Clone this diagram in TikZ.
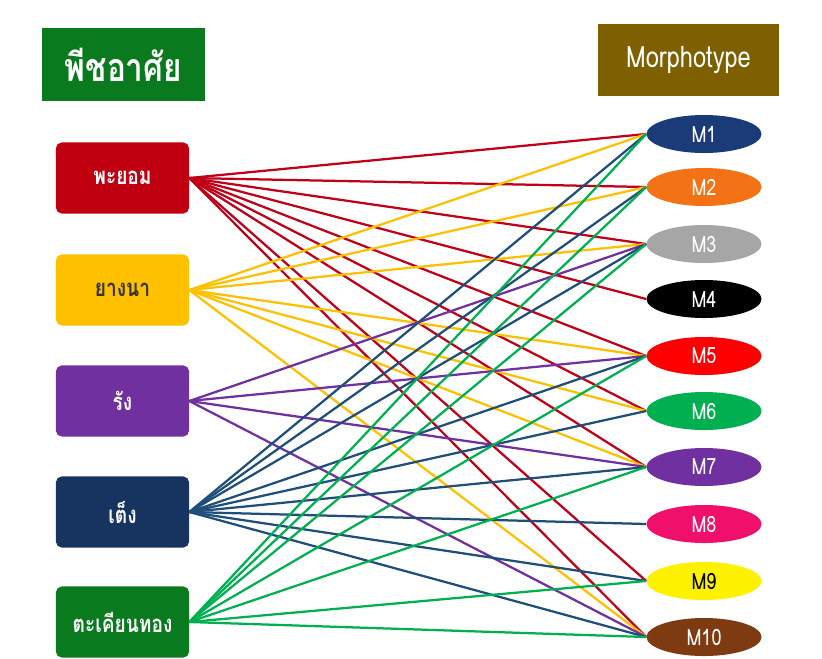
\documentclass[tikz,border=0pt]{standalone}
\usepackage{fontspec}
\setmainfont[Script=Thai, FakeStretch=0.8]{Loma}
\usetikzlibrary{shapes.geometric}

\definecolor{hostHead}{HTML}{0A7A1E}
\definecolor{morphHead}{HTML}{7F6000}
\definecolor{cPayom}{HTML}{C00010}
\definecolor{cYangna}{HTML}{FFC000}
\definecolor{cRang}{HTML}{7030A0}
\definecolor{cTeng}{HTML}{17335F}
\definecolor{cTakhian}{HTML}{0A7A1E}
\definecolor{lPayom}{HTML}{C00018}
\definecolor{lYangna}{HTML}{FFC000}
\definecolor{lRang}{HTML}{7030A0}
\definecolor{lTeng}{HTML}{1F4E79}
\definecolor{lTakhian}{HTML}{00B050}
\definecolor{mBrown}{HTML}{7E3B12}
\definecolor{mNavy}{HTML}{1B3A78}
\definecolor{mOrange}{HTML}{F47216}
\definecolor{mPink}{HTML}{F0106C}

\tikzset{
  head/.style={minimum height=1.8cm, text=white, font=\fontsize{28}{32}\selectfont\bfseries},
  host/.style={rounded corners=4pt, minimum width=3.325cm, minimum height=1.775cm, text=white, font=\fontsize{17}{20}\selectfont\bfseries},
  morph/.style={ellipse, minimum width=2.875cm, minimum height=0.95cm, inner sep=0pt, text=white, font=\fontsize{16}{18}\selectfont},
  link/.style={line width=1.6pt},
}

\begin{document}
\begin{tikzpicture}[x=0.025cm, y=-0.025cm]
\useasboundingbox (0,0) rectangle (822,658);

% headings
\node[head, fill=hostHead, minimum width=4.075cm] (hosts) at (123.5,64.5) {พีชอาศัย};
\node[head, fill=morphHead, minimum width=4.525cm, font=\fontsize{21}{24}\selectfont] (morphs) at (688.5,60) {Morphotype};

% host plants
\node[host, fill=cPayom] (payom) at (122.5,178) {พะยอม};
\node[host, fill=cYangna, text=black!80] (yangna) at (122.5,290) {ยางนา};
\node[host, fill=cRang] (rang) at (122.5,401) {รัง};
\node[host, fill=cTeng] (teng) at (122.5,512) {เต็ง};
\node[host, fill=cTakhian] (takhian) at (122.5,622) {ตะเคียนทอง};

% morphotypes
\node[morph, fill=mNavy] (m1) at (704,134) {M1};
\node[morph, fill=mOrange] (m2) at (704,187) {M2};
\node[morph, fill=black!35] (m3) at (704,244) {M3};
\node[morph, fill=black] (m4) at (704,299) {M4};
\node[morph, fill=red] (m5) at (704,356) {M5};
\node[morph, fill=lTakhian] (m6) at (704,411) {M6};
\node[morph, fill=cRang] (m7) at (704,467) {M7};
\node[morph, fill=mPink] (m8) at (704,524) {M8};
\node[morph, fill=yellow, text=black] (m9) at (704,581) {M9};
\node[morph, fill=mBrown] (m10) at (704,637) {M10};

% links
\foreach \m in {1,2,3,4,5,6,7,9,10}
  \draw[link, lPayom] (payom.east) -- (m\m.west);
\foreach \m in {1,2,3,5,6,7,10}
  \draw[link, lYangna] (yangna.east) -- (m\m.west);
\foreach \m in {3,5,7,10}
  \draw[link, lRang] (rang.east) -- (m\m.west);
\foreach \m in {1,2,3,5,6,7,8,9,10}
  \draw[link, lTeng] (teng.east) -- (m\m.west);
\foreach \m in {1,2,3,5,7,9,10}
  \draw[link, lTakhian] (takhian.east) -- (m\m.west);
\end{tikzpicture}
\end{document}
